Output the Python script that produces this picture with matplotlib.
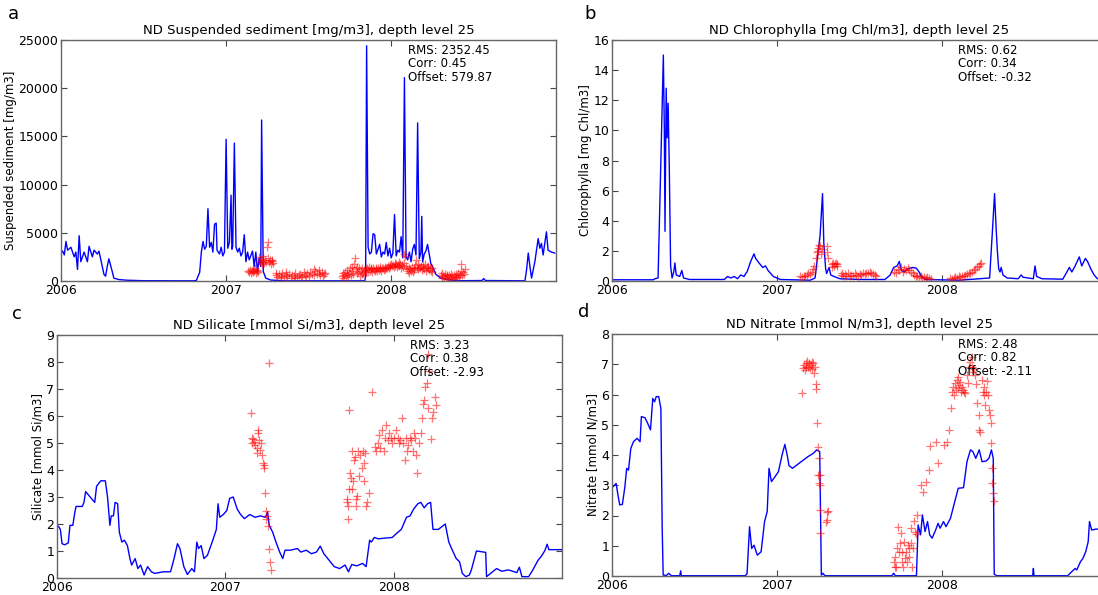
import numpy as np
import matplotlib
matplotlib.use("Agg")
import matplotlib.pyplot as plt

# ---- data (decimal year, value) ----
years = [2006, 2007, 2008]

sed_model = [
    (2006.00, 2900), (2006.01, 3100), (2006.02, 2700), (2006.03, 4100), (2006.04, 3200),
    (2006.06, 3500), (2006.08, 2500), (2006.09, 3000), (2006.10, 1200), (2006.11, 4700),
    (2006.12, 2000), (2006.14, 3000), (2006.16, 2000), (2006.17, 3600), (2006.19, 2500),
    (2006.20, 3200), (2006.22, 2800), (2006.23, 3100), (2006.25, 1500), (2006.26, 700),
    (2006.27, 500), (2006.28, 1500), (2006.29, 2300), (2006.31, 1000), (2006.32, 300),
    (2006.35, 150), (2006.40, 80), (2006.50, 30), (2006.80, 20), (2006.82, 50),
    (2006.83, 500), (2006.84, 900), (2006.85, 3000), (2006.86, 4100), (2006.87, 3300),
    (2006.88, 3600), (2006.89, 7500), (2006.90, 3500), (2006.91, 4000), (2006.92, 3000),
    (2006.93, 5900), (2006.94, 6000), (2006.945, 3200), (2006.96, 2800), (2006.97, 3500),
    (2006.98, 2600), (2006.99, 3000), (2007.00, 14700), (2007.01, 3400), (2007.02, 4000),
    (2007.03, 8900), (2007.035, 3300), (2007.04, 3600), (2007.05, 14300), (2007.06, 3500),
    (2007.07, 3000), (2007.08, 3400), (2007.09, 2600), (2007.10, 3000), (2007.11, 4800),
    (2007.12, 2000), (2007.13, 3000), (2007.14, 2200), (2007.16, 3100), (2007.17, 1500),
    (2007.18, 3000), (2007.19, 900), (2007.20, 2400), (2007.21, 1500), (2007.215, 16700),
    (2007.225, 1000), (2007.24, 300), (2007.27, 100), (2007.35, 20), (2007.84, 20),
    (2007.845, 500), (2007.851, 24400), (2007.86, 3500), (2007.87, 2800), (2007.88, 3000),
    (2007.89, 4900), (2007.90, 4800), (2007.91, 2800), (2007.92, 3300), (2007.93, 3800),
    (2007.94, 2500), (2007.95, 3000), (2007.96, 2800), (2007.97, 4000), (2007.98, 2600),
    (2007.99, 3400), (2008.00, 2400), (2008.01, 2900), (2008.02, 6900), (2008.03, 2600),
    (2008.04, 3200), (2008.05, 3000), (2008.06, 4600), (2008.07, 2400), (2008.08, 21100),
    (2008.09, 2500), (2008.10, 2200), (2008.11, 3000), (2008.12, 2000), (2008.13, 3300),
    (2008.14, 3800), (2008.15, 2700), (2008.16, 16400), (2008.17, 2300), (2008.18, 3000),
    (2008.185, 6700), (2008.19, 2000), (2008.20, 2800), (2008.21, 3100), (2008.22, 3800),
    (2008.23, 2800), (2008.24, 1800), (2008.25, 1500), (2008.27, 700), (2008.30, 300),
    (2008.35, 100), (2008.42, 30), (2008.55, 50), (2008.56, 250), (2008.57, 50),
    (2008.81, 20), (2008.82, 1200), (2008.83, 2900), (2008.84, 1500), (2008.85, 300),
    (2008.87, 2000), (2008.88, 3200), (2008.89, 4400), (2008.90, 3400), (2008.91, 3900),
    (2008.92, 2700), (2008.94, 5100), (2008.95, 3200), (2008.97, 3000), (2008.99, 2900),
]

sed_obs = [
    (2007.13, 1000), (2007.14, 900), (2007.145, 1100), (2007.15, 800), (2007.155, 1000),
    (2007.16, 1200), (2007.165, 900), (2007.17, 1000), (2007.175, 1300), (2007.18, 800),
    (2007.185, 1000), (2007.19, 1100), (2007.195, 900), (2007.20, 2500), (2007.205, 2000),
    (2007.21, 2300), (2007.215, 1800), (2007.22, 2100), (2007.225, 2600), (2007.23, 1900),
    (2007.235, 2200), (2007.24, 2000), (2007.25, 3500), (2007.256, 4000), (2007.255, 2400),
    (2007.26, 2000), (2007.265, 2200), (2007.27, 1800), (2007.275, 2100), (2007.28, 2200),
    (2007.285, 1900),
    (2007.30, 600), (2007.305, 800), (2007.31, 400), (2007.32, 700), (2007.33, 500),
    (2007.335, 300), (2007.34, 800), (2007.35, 400), (2007.36, 600), (2007.365, 900),
    (2007.37, 500), (2007.38, 700), (2007.39, 300), (2007.40, 600), (2007.41, 500),
    (2007.415, 300), (2007.42, 800), (2007.43, 400), (2007.44, 600), (2007.45, 700),
    (2007.455, 400), (2007.46, 500), (2007.47, 900), (2007.48, 600), (2007.485, 400),
    (2007.49, 800), (2007.50, 500), (2007.51, 900), (2007.52, 700), (2007.53, 600),
    (2007.535, 1200), (2007.54, 1000), (2007.55, 700), (2007.56, 800), (2007.565, 1100),
    (2007.57, 600), (2007.58, 900), (2007.585, 500), (2007.59, 700), (2007.60, 800),
    (2007.70, 500), (2007.705, 800), (2007.71, 300), (2007.715, 600), (2007.72, 900),
    (2007.725, 400), (2007.73, 700), (2007.735, 1100), (2007.74, 500), (2007.745, 800),
    (2007.75, 1300), (2007.755, 600), (2007.76, 1000), (2007.765, 1500), (2007.77, 700),
    (2007.775, 1800), (2007.78, 2400), (2007.785, 1200), (2007.79, 800), (2007.795, 1500),
    (2007.80, 900), (2007.805, 1300), (2007.81, 500), (2007.815, 1000), (2007.82, 700),
    (2007.825, 1400), (2007.83, 800), (2007.835, 1100), (2007.84, 600),
    (2007.845, 1200), (2007.85, 900), (2007.855, 1300), (2007.86, 1100), (2007.865, 1500),
    (2007.87, 1000), (2007.875, 1200), (2007.88, 1400), (2007.885, 900), (2007.89, 1300),
    (2007.895, 1100), (2007.90, 1000), (2007.905, 1400), (2007.91, 1200), (2007.915, 1000),
    (2007.92, 1300), (2007.925, 1100), (2007.93, 1500), (2007.935, 1200), (2007.94, 1000),
    (2007.945, 1400), (2007.95, 1300), (2007.955, 1100), (2007.96, 1500), (2007.965, 1200),
    (2007.97, 1400), (2007.975, 1300), (2007.98, 1600), (2007.985, 1400), (2007.99, 1700),
    (2007.995, 1500), (2008.00, 1800), (2008.005, 1600), (2008.01, 1700), (2008.015, 1500),
    (2008.02, 1900), (2008.025, 1600), (2008.03, 1800), (2008.035, 1500), (2008.04, 1700),
    (2008.045, 2000), (2008.05, 1600), (2008.055, 1800), (2008.06, 1400), (2008.065, 1700),
    (2008.07, 1500), (2008.075, 1900), (2008.08, 2800), (2008.085, 2600), (2008.09, 1600),
    (2008.095, 1200),
    (2008.10, 1000), (2008.105, 1400), (2008.11, 800), (2008.115, 1200), (2008.12, 1000),
    (2008.125, 1500), (2008.13, 900), (2008.135, 1300), (2008.14, 1100), (2008.145, 1700),
    (2008.15, 2200), (2008.155, 1400), (2008.16, 1200), (2008.165, 1800), (2008.17, 1500),
    (2008.175, 1300), (2008.18, 1600), (2008.185, 1100), (2008.19, 1700), (2008.195, 1400),
    (2008.20, 1200), (2008.205, 1800), (2008.21, 1000), (2008.215, 1500), (2008.22, 1300),
    (2008.225, 1600), (2008.23, 1100), (2008.235, 1400), (2008.24, 1000), (2008.245, 1300),
    (2008.25, 900),
    (2008.30, 600), (2008.305, 300), (2008.31, 800), (2008.315, 500), (2008.32, 400),
    (2008.325, 700), (2008.33, 300), (2008.335, 600), (2008.34, 500), (2008.345, 200),
    (2008.35, 600), (2008.355, 400), (2008.36, 700), (2008.365, 300), (2008.37, 500),
    (2008.375, 200), (2008.38, 600), (2008.385, 400), (2008.39, 300), (2008.395, 700),
    (2008.40, 500), (2008.405, 800), (2008.41, 400), (2008.415, 600), (2008.42, 1000),
    (2008.425, 1800), (2008.43, 600), (2008.435, 900), (2008.44, 700), (2008.445, 1200),
]

chl_model = [
    (2006.00, 0.08), (2006.25, 0.08), (2006.26, 0.15), (2006.279, 0.2), (2006.296, 8.0),
    (2006.311, 15.0), (2006.317, 10.0), (2006.321, 3.3), (2006.328, 12.8), (2006.334, 9.5),
    (2006.340, 11.8), (2006.347, 7.5), (2006.355, 1.0), (2006.364, 0.2), (2006.374, 0.6),
    (2006.381, 1.2), (2006.389, 0.4), (2006.41, 0.3), (2006.423, 0.7), (2006.433, 0.2),
    (2006.47, 0.1), (2006.60, 0.1), (2006.68, 0.1), (2006.70, 0.3), (2006.72, 0.2),
    (2006.74, 0.3), (2006.76, 0.15), (2006.78, 0.4), (2006.80, 0.3), (2006.81, 0.5),
    (2006.818, 0.6), (2006.84, 1.3), (2006.86, 1.8), (2006.87, 1.5), (2006.89, 1.2),
    (2006.913, 0.9), (2006.93, 1.0), (2006.945, 0.7), (2006.977, 0.3), (2007.02, 0.1),
    (2007.20, 0.05), (2007.23, 0.2), (2007.26, 3.0), (2007.275, 5.8), (2007.283, 2.5),
    (2007.294, 0.8), (2007.30, 0.5), (2007.315, 0.9), (2007.325, 0.4), (2007.345, 0.3),
    (2007.38, 0.15), (2007.50, 0.1), (2007.653, 0.1), (2007.685, 0.4), (2007.706, 0.9),
    (2007.727, 1.0), (2007.74, 1.3), (2007.753, 0.7), (2007.77, 0.6), (2007.79, 0.8),
    (2007.822, 0.9), (2007.843, 0.85), (2007.86, 0.6), (2007.875, 0.3), (2007.896, 0.1),
    (2008.10, 0.05), (2008.287, 0.2), (2008.305, 3.5), (2008.317, 5.8), (2008.326, 3.6),
    (2008.334, 2.0), (2008.342, 0.8), (2008.35, 0.6), (2008.357, 0.9), (2008.368, 0.4),
    (2008.393, 0.2), (2008.46, 0.15), (2008.478, 0.4), (2008.49, 0.25), (2008.552, 0.15),
    (2008.562, 1.0), (2008.572, 0.3), (2008.605, 0.15), (2008.73, 0.12), (2008.75, 0.5),
    (2008.77, 0.9), (2008.785, 0.6), (2008.805, 1.0), (2008.83, 1.6), (2008.845, 1.0),
    (2008.867, 1.5), (2008.88, 1.3), (2008.90, 0.8), (2008.92, 0.4), (2008.94, 0.15),
    (2008.99, 0.1),
]

chl_obs = [
    (2007.14, 0.3), (2007.15, 0.25), (2007.16, 0.35), (2007.17, 0.3), (2007.18, 0.4),
    (2007.19, 0.5), (2007.20, 0.45), (2007.21, 0.6), (2007.22, 0.8), (2007.225, 1.0),
    (2007.235, 1.5), (2007.24, 1.9), (2007.245, 2.2), (2007.25, 2.0), (2007.255, 2.4),
    (2007.26, 2.3), (2007.265, 1.8), (2007.27, 2.1), (2007.30, 2.3), (2007.305, 1.9),
    (2007.31, 1.5), (2007.33, 0.9), (2007.335, 1.1), (2007.34, 1.2), (2007.345, 1.0),
    (2007.35, 1.1), (2007.355, 1.2), (2007.36, 1.0), (2007.365, 1.1),
    (2007.385, 0.4), (2007.39, 0.5), (2007.40, 0.3), (2007.41, 0.45), (2007.42, 0.35),
    (2007.43, 0.5), (2007.44, 0.3), (2007.45, 0.4), (2007.46, 0.35), (2007.47, 0.5),
    (2007.48, 0.4), (2007.49, 0.3), (2007.50, 0.45), (2007.51, 0.4), (2007.52, 0.5),
    (2007.53, 0.45), (2007.54, 0.55), (2007.55, 0.5), (2007.56, 0.6), (2007.57, 0.55),
    (2007.58, 0.45), (2007.59, 0.4), (2007.60, 0.35),
    (2007.71, 0.6), (2007.72, 0.5), (2007.73, 0.8), (2007.74, 0.7), (2007.75, 0.9),
    (2007.76, 0.6), (2007.77, 0.8), (2007.78, 0.7), (2007.79, 0.85), (2007.80, 0.7),
    (2007.81, 0.6), (2007.82, 0.5), (2007.83, 0.4), (2007.84, 0.3), (2007.85, 0.35),
    (2007.86, 0.25), (2007.87, 0.3), (2007.88, 0.2), (2007.89, 0.25), (2007.90, 0.2),
    (2007.91, 0.25), (2007.92, 0.2), (2007.93, 0.15),
    (2008.05, 0.2), (2008.06, 0.15), (2008.07, 0.2), (2008.08, 0.25), (2008.09, 0.2),
    (2008.10, 0.3), (2008.11, 0.25), (2008.12, 0.3), (2008.13, 0.35), (2008.14, 0.4),
    (2008.15, 0.45), (2008.16, 0.5), (2008.17, 0.55), (2008.18, 0.6), (2008.19, 0.7),
    (2008.20, 0.8), (2008.21, 0.9), (2008.22, 1.0), (2008.23, 1.1), (2008.235, 1.2),
]

sil_model = [
    (2006.00, 1.95), (2006.01, 1.9), (2006.02, 1.8), (2006.03, 1.27), (2006.046, 1.23),
    (2006.067, 1.3), (2006.077, 1.95), (2006.094, 1.95), (2006.105, 2.4), (2006.113, 2.65),
    (2006.15, 2.65), (2006.16, 2.8), (2006.17, 3.2), (2006.197, 3.0), (2006.224, 2.8),
    (2006.235, 3.4), (2006.26, 3.6), (2006.287, 3.6), (2006.30, 3.0), (2006.314, 1.95),
    (2006.322, 2.3), (2006.335, 2.3), (2006.345, 2.8), (2006.36, 2.75), (2006.37, 1.7),
    (2006.385, 1.33), (2006.40, 1.4), (2006.418, 1.2), (2006.433, 0.72), (2006.443, 0.48),
    (2006.464, 0.72), (2006.48, 0.35), (2006.496, 0.48), (2006.517, 0.11), (2006.538, 0.42),
    (2006.56, 0.23), (2006.58, 0.17), (2006.632, 0.23), (2006.674, 0.23), (2006.695, 0.72),
    (2006.715, 1.27), (2006.73, 1.09), (2006.753, 0.42), (2006.774, 0.13), (2006.80, 0.35),
    (2006.816, 0.23), (2006.83, 1.33), (2006.84, 1.09), (2006.856, 1.2), (2006.872, 0.72),
    (2006.893, 0.84), (2006.925, 1.4), (2006.946, 1.8), (2006.956, 2.75), (2006.966, 2.25),
    (2006.987, 2.35), (2007.008, 2.5), (2007.025, 2.95), (2007.046, 3.0), (2007.07, 2.55),
    (2007.09, 2.35), (2007.113, 2.2), (2007.144, 2.35), (2007.176, 2.25), (2007.207, 2.3),
    (2007.238, 2.25), (2007.25, 2.45), (2007.26, 1.95), (2007.28, 1.7), (2007.30, 1.33),
    (2007.322, 0.96), (2007.34, 0.72), (2007.354, 1.03), (2007.385, 1.03), (2007.427, 1.09),
    (2007.448, 0.96), (2007.48, 1.03), (2007.51, 0.9), (2007.54, 0.96), (2007.563, 1.18),
    (2007.584, 0.9), (2007.615, 0.66), (2007.646, 0.42), (2007.678, 0.35), (2007.71, 0.48),
    (2007.73, 0.23), (2007.75, 0.5), (2007.78, 0.45), (2007.814, 0.54), (2007.835, 0.42),
    (2007.845, 0.9), (2007.856, 1.4), (2007.866, 1.33), (2007.883, 1.5), (2007.908, 1.45),
    (2007.95, 1.48), (2007.99, 1.5), (2008.012, 1.63), (2008.044, 1.8), (2008.075, 2.25),
    (2008.096, 2.3), (2008.117, 2.55), (2008.142, 2.75), (2008.16, 2.8), (2008.18, 2.6),
    (2008.20, 2.75), (2008.218, 2.8), (2008.232, 1.8), (2008.264, 1.8), (2008.295, 1.95),
    (2008.305, 2.0), (2008.326, 1.33), (2008.347, 1.03), (2008.37, 0.72), (2008.39, 0.6),
    (2008.406, 0.17), (2008.427, 0.05), (2008.448, 0.11), (2008.46, 0.3), (2008.49, 1.0),
    (2008.545, 0.95), (2008.55, 0.05), (2008.61, 0.35), (2008.64, 0.25), (2008.68, 0.3),
    (2008.73, 0.2), (2008.745, 0.4), (2008.76, 0.05), (2008.80, 0.05), (2008.825, 0.3),
    (2008.855, 0.65), (2008.875, 0.8), (2008.895, 1.0), (2008.91, 1.25), (2008.92, 1.05),
    (2008.995, 1.05),
]

sil_obs = [
    (2007.151, 6.1), (2007.155, 5.18), (2007.163, 5.14), (2007.159, 5.0), (2007.17, 5.05),
    (2007.175, 4.93), (2007.186, 4.81), (2007.187, 4.63), (2007.192, 5.48), (2007.196, 5.36),
    (2007.20, 5.12), (2007.207, 4.75), (2007.213, 5.0), (2007.217, 4.57), (2007.222, 4.26),
    (2007.228, 4.08), (2007.228, 4.2), (2007.234, 3.16), (2007.243, 2.49), (2007.247, 2.3),
    (2007.238, 2.19), (2007.253, 1.94), (2007.257, 1.09), (2007.264, 0.6), (2007.272, 0.29),
    (2007.257, 7.96),
    (2007.72, 2.92), (2007.726, 2.67), (2007.73, 2.19), (2007.724, 2.8), (2007.734, 6.24),
    (2007.736, 3.28), (2007.74, 3.9), (2007.747, 3.71), (2007.75, 4.69), (2007.753, 3.28),
    (2007.757, 3.59), (2007.766, 4.38), (2007.772, 4.5), (2007.776, 2.92), (2007.778, 2.67),
    (2007.782, 3.04), (2007.787, 4.69), (2007.793, 3.77), (2007.799, 4.57), (2007.808, 4.08),
    (2007.814, 4.69), (2007.82, 4.26), (2007.824, 3.59), (2007.828, 4.63), (2007.835, 2.67),
    (2007.841, 2.8), (2007.85, 3.16), (2007.872, 6.89),
    (2007.887, 4.87), (2007.893, 4.69), (2007.904, 5.0), (2007.912, 5.3), (2007.918, 4.81),
    (2007.929, 5.48), (2007.939, 4.69), (2007.95, 5.18), (2007.956, 5.67), (2007.964, 5.12),
    (2007.97, 5.36), (2007.98, 5.18), (2007.99, 5.0), (2008.001, 5.18), (2008.012, 5.48),
    (2008.023, 5.18), (2008.029, 5.0), (2008.038, 5.12), (2008.048, 5.91), (2008.054, 5.0),
    (2008.065, 4.38), (2008.071, 5.18), (2008.08, 4.69), (2008.086, 4.93), (2008.096, 5.18),
    (2008.1, 5.12), (2008.113, 4.69), (2008.117, 5.36), (2008.128, 5.18), (2008.134, 4.57),
    (2008.138, 3.9), (2008.149, 5.0), (2008.159, 5.36), (2008.165, 5.91), (2008.174, 6.46),
    (2008.18, 6.58), (2008.186, 7.07), (2008.197, 7.22), (2008.20, 8.29), (2008.205, 6.28),
    (2008.211, 7.68), (2008.222, 5.14), (2008.228, 5.91), (2008.232, 6.15), (2008.243, 6.7),
    (2008.249, 6.4),
]

nit_model = [
    (2006.00, 2.92), (2006.015, 3.0), (2006.025, 3.06), (2006.036, 2.68), (2006.047, 2.35),
    (2006.063, 2.37), (2006.078, 2.95), (2006.089, 3.56), (2006.10, 3.5), (2006.114, 4.22),
    (2006.13, 4.44), (2006.152, 4.55), (2006.17, 4.44), (2006.178, 5.27), (2006.20, 5.23),
    (2006.216, 5.05), (2006.233, 4.83), (2006.247, 5.87), (2006.258, 5.76), (2006.268, 5.93),
    (2006.283, 5.93), (2006.296, 5.54), (2006.304, 1.58), (2006.31, 0.03), (2006.33, 0.02),
    (2006.343, 0.09), (2006.36, 0.01), (2006.41, 0.01), (2006.416, 0.17), (2006.42, 0.01),
    (2006.808, 0.01), (2006.818, 0.08), (2006.833, 1.63), (2006.846, 0.91), (2006.86, 1.02),
    (2006.88, 0.69), (2006.903, 0.8), (2006.924, 1.8), (2006.94, 2.13), (2006.951, 3.56),
    (2006.966, 3.12), (2006.987, 3.28), (2007.008, 3.45), (2007.03, 4.0), (2007.047, 4.35),
    (2007.061, 4.0), (2007.072, 3.65), (2007.093, 3.56), (2007.146, 3.78), (2007.188, 3.95),
    (2007.22, 4.06), (2007.24, 4.17), (2007.258, 4.11), (2007.268, 0.03), (2007.277, 0.09),
    (2007.29, 0.01), (2007.695, 0.01), (2007.706, 0.09), (2007.716, 0.01), (2007.844, 0.01),
    (2007.854, 1.69), (2007.869, 1.36), (2007.88, 2.02), (2007.896, 1.47), (2007.911, 1.8),
    (2007.924, 1.36), (2007.939, 1.25), (2007.96, 1.52), (2007.975, 1.74), (2007.987, 1.58),
    (2008.008, 1.8), (2008.023, 1.63), (2008.05, 1.91), (2008.076, 2.46), (2008.097, 2.9),
    (2008.129, 2.92), (2008.15, 3.78), (2008.171, 4.17), (2008.186, 4.11), (2008.203, 3.89),
    (2008.224, 4.17), (2008.241, 3.78), (2008.266, 3.8), (2008.283, 3.89), (2008.298, 4.17),
    (2008.309, 3.89), (2008.315, 0.06), (2008.33, 0.01), (2008.548, 0.01), (2008.552, 0.25),
    (2008.556, 0.01), (2008.76, 0.01), (2008.784, 0.14), (2008.805, 0.25), (2008.815, 0.2),
    (2008.837, 0.47), (2008.852, 0.58), (2008.869, 0.8), (2008.884, 1.13), (2008.892, 1.8),
    (2008.905, 1.52), (2008.93, 1.55), (2008.99, 1.55),
]

nit_obs = [
    (2007.15, 6.06), (2007.156, 6.87), (2007.162, 6.98), (2007.167, 6.81), (2007.173, 7.03),
    (2007.178, 6.92), (2007.184, 7.11), (2007.188, 6.92), (2007.194, 7.03), (2007.199, 6.87),
    (2007.205, 6.98), (2007.209, 7.09), (2007.213, 6.84), (2007.22, 7.03), (2007.224, 6.7),
    (2007.23, 6.92), (2007.235, 6.34), (2007.237, 6.17), (2007.24, 5.05), (2007.247, 4.28),
    (2007.251, 3.89), (2007.247, 3.34), (2007.251, 3.06), (2007.258, 3.01), (2007.262, 3.34),
    (2007.258, 2.18), (2007.262, 1.41), (2007.30, 2.13), (2007.304, 1.85), (2007.298, 1.8),
    (2007.311, 2.15),
    (2007.706, 0.47), (2007.712, 0.31), (2007.716, 0.64), (2007.723, 0.31), (2007.727, 0.91),
    (2007.733, 1.63), (2007.738, 0.8), (2007.744, 1.08), (2007.748, 1.41), (2007.755, 0.47),
    (2007.759, 0.8), (2007.763, 0.31), (2007.77, 1.14), (2007.776, 0.58), (2007.78, 0.8),
    (2007.784, 0.47), (2007.791, 1.02), (2007.797, 0.64), (2007.801, 0.91), (2007.808, 1.08),
    (2007.812, 1.58), (2007.818, 0.31), (2007.822, 0.91), (2007.827, 1.82), (2007.833, 1.47),
    (2007.839, 1.38), (2007.848, 2.02),
    (2007.869, 3.01), (2007.886, 2.79), (2007.903, 3.12), (2007.918, 3.5), (2007.928, 4.31),
    (2007.96, 4.44), (2007.977, 3.72), (2008.008, 4.33), (2008.03, 4.44), (2008.044, 4.83),
    (2008.055, 5.54), (2008.062, 6.09), (2008.066, 6.26), (2008.072, 5.98), (2008.076, 6.37),
    (2008.083, 6.15), (2008.087, 6.48), (2008.093, 6.2), (2008.097, 6.59), (2008.101, 6.31),
    (2008.108, 6.42), (2008.114, 6.09), (2008.118, 6.26), (2008.125, 6.15), (2008.131, 6.09),
    (2008.139, 6.04), (2008.15, 6.65), (2008.156, 6.37), (2008.165, 6.92), (2008.171, 7.09),
    (2008.178, 7.25), (2008.182, 6.92), (2008.188, 6.76), (2008.192, 6.84), (2008.199, 6.65),
    (2008.207, 6.34), (2008.213, 5.71), (2008.22, 5.32), (2008.224, 4.83), (2008.228, 4.77),
    (2008.241, 6.48), (2008.245, 6.09), (2008.252, 5.98), (2008.256, 6.26), (2008.26, 5.65),
    (2008.266, 6.09), (2008.273, 6.45), (2008.277, 5.98), (2008.283, 5.49), (2008.288, 5.32),
    (2008.294, 5.05), (2008.298, 4.39), (2008.299, 3.56), (2008.304, 3.06), (2008.309, 2.73),
    (2008.313, 2.48),
]

panels = [
    dict(letter="a", title="ND Suspended sediment [mg/m3], depth level 25",
         ylabel="Suspended sediment [mg/m3]", ylim=(0, 25000), yticks=np.arange(0, 25001, 5000),
         model=sed_model, obs=sed_obs, stats=("2352.45", "0.45", "579.87"),
         pos=[61, 40, 556, 281], letter_xy=(8, 19)),
    dict(letter="b", title="ND Chlorophylla [mg Chl/m3], depth level 25",
         ylabel="Chlorophylla [mg Chl/m3]", ylim=(0, 16), yticks=np.arange(0, 17, 2),
         model=chl_model, obs=chl_obs, stats=("0.62", "0.34", "-0.32"),
         pos=[612, 40, 1107, 281], letter_xy=(584, 19)),
    dict(letter="c", title="ND Silicate [mmol Si/m3], depth level 25",
         ylabel="Silicate [mmol Si/m3]", ylim=(0, 9), yticks=np.arange(0, 10, 1),
         model=sil_model, obs=sil_obs, stats=("3.23", "0.38", "-2.93"),
         pos=[57, 335, 562, 578], letter_xy=(12, 319)),
    dict(letter="d", title="ND Nitrate [mmol N/m3], depth level 25",
         ylabel="Nitrate [mmol N/m3]", ylim=(0, 8), yticks=np.arange(0, 9, 1),
         model=nit_model, obs=nit_obs, stats=("2.48", "0.82", "-2.11"),
         pos=[612, 334, 1107, 576], letter_xy=(578, 317)),
]

W, H = 1098, 595
fig = plt.figure(figsize=(W / 100, H / 100), dpi=100)

for p in panels:
    x0, y0, x1, y1 = p["pos"]
    ax = fig.add_axes([x0 / W, 1 - y1 / H, (x1 - x0) / W, (y1 - y0) / H])
    mt, mv = zip(*p["model"])
    ot, ov = zip(*p["obs"])
    ax.plot(mt, mv, color="#0000ff", lw=1.0)
    ax.plot(ot, ov, "+", color="#ff0000", alpha=0.55, ms=6, mew=0.9)
    ax.set_xlim(2006, 2008.998)
    ax.set_ylim(*p["ylim"])
    ax.set_xticks(years)
    ax.set_xticklabels([str(y) for y in years])
    ax.set_yticks(p["yticks"])
    ax.tick_params(direction="in", top=True, right=True, labelsize=9, length=4,
                   width=0.8, color="#444444", pad=2)
    for s in ax.spines.values():
        s.set_color("#666666")
        s.set_linewidth(1.0)
    ax.set_title(p["title"], fontsize=9.5, pad=4)
    ax.set_ylabel(p["ylabel"], fontsize=8.5, labelpad=1)
    rms, corr, off = p["stats"]
    ax.text(0.70, 0.985, f"RMS: {rms}\nCorr: {corr}\nOffset: {off}",
            transform=ax.transAxes, ha="left", va="top", fontsize=8.5, linespacing=1.05)
    lx, ly = p["letter_xy"]
    fig.text(lx / W, 1 - ly / H, p["letter"], fontsize=13)

fig.savefig("out.png", dpi=100)
